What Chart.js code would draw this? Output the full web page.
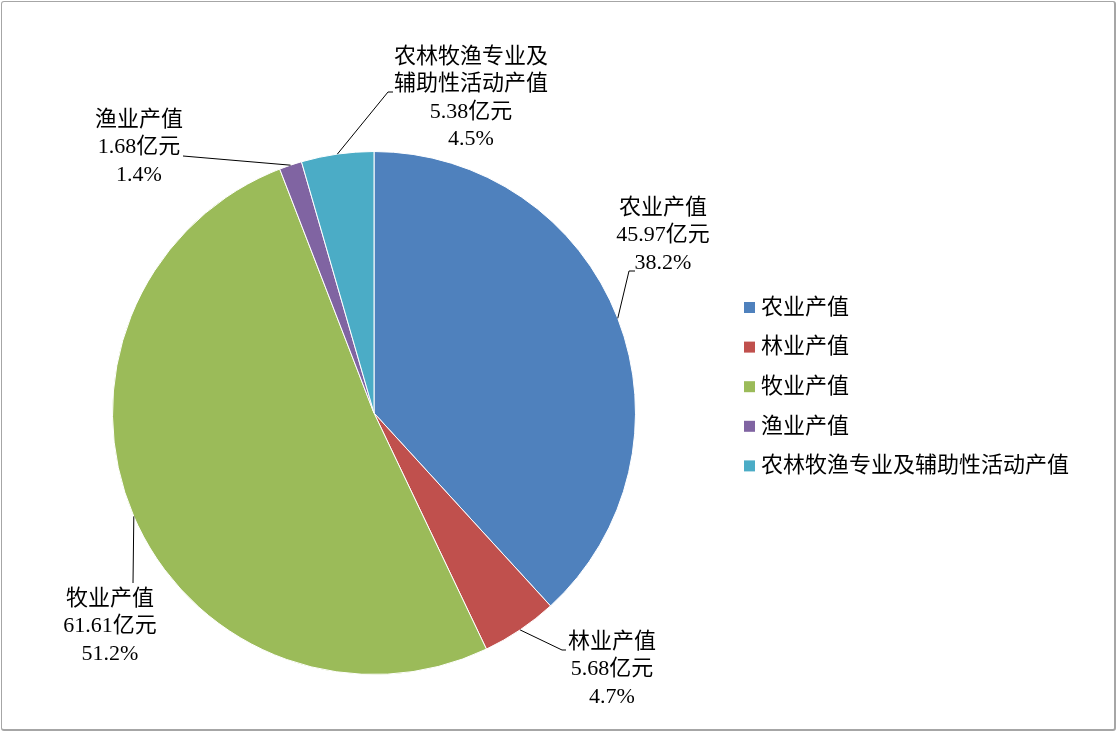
<!DOCTYPE html>
<html>
<head>
<meta charset="utf-8">
<script src="https://cdn.jsdelivr.net/npm/chart.js@4/dist/chart.umd.min.js"></script>
<style>
  html, body { margin: 0; padding: 0; background: #fff; }
  #wrap { position: relative; width: 1117px; height: 732px; }
  #frame {
    position: absolute; left: 1px; top: 1px; width: 1112px; height: 727px;
    border: 1px solid #a6a6a6; border-right-width: 2px; border-bottom-width: 2px;
    border-radius: 3px; pointer-events: none;
  }
  canvas { position: absolute; left: 0; top: 0; }
</style>
</head>
<body>
<div id="wrap">
  <canvas id="chart" width="1117" height="732"></canvas>
  <div id="frame"></div>
</div>
<script>
// data (亿元)
const categories = ['农业产值', '林业产值', '牧业产值', '渔业产值', '农林牧渔专业及辅助性活动产值']
const values = [45.97, 5.68, 61.61, 1.68, 5.38]
const unit = '亿元'

const colors = ['#4F81BD', '#C0504D', '#9BBB59', '#8064A2', '#4BACC6']

// where each data label sits: text centre x, first line centre y, leader elbow, short tail
const labelLayout = [
  { x: 663, y: 208, elbow: [629, 271], tail: 6 },
  { x: 612, y: 642, elbow: [562, 650], tail: 4 },
  { x: 110, y: 599, elbow: [133, 583], tail: 0 },
  { x: 139, y: 120, elbow: [183, 156], tail: 0 },
  { x: 471, y: 57, elbow: [388, 92], tail: 5 }
]

const FONT = '22px "Liberation Serif", "Noto Sans CJK SC", serif'
const LINE_H = 27.5

function wrapName(name) {
  if (name.length <= 7) return [name]
  const lines = []
  for (let i = 0; i < name.length; i += 7) lines.push(name.slice(i, i + 7))
  return lines
}

const labelPlugin = {
  id: 'pieLabels',
  afterDatasetsDraw(chart) {
    const ctx = chart.ctx
    const meta = chart.getDatasetMeta(0)
    const total = values.reduce((a, b) => a + b, 0)
    ctx.save()
    ctx.font = FONT
    ctx.fillStyle = '#000'
    ctx.textAlign = 'center'
    ctx.textBaseline = 'middle'
    meta.data.forEach((arc, i) => {
      const p = arc.getProps(['x', 'y', 'startAngle', 'endAngle', 'outerRadius'], true)
      const mid = (p.startAngle + p.endAngle) / 2
      const sx = p.x + Math.cos(mid) * p.outerRadius
      const sy = p.y + Math.sin(mid) * p.outerRadius
      const lay = labelLayout[i]

      // leader line
      ctx.strokeStyle = '#000'
      ctx.lineWidth = 1
      ctx.beginPath()
      ctx.moveTo(sx, sy)
      ctx.lineTo(lay.elbow[0], lay.elbow[1])
      if (lay.tail) ctx.lineTo(lay.elbow[0] + lay.tail, lay.elbow[1])
      ctx.stroke()

      const lines = wrapName(categories[i])
      lines.push(values[i].toFixed(2) + unit)
      lines.push((values[i] / total * 100).toFixed(1) + '%')
      lines.forEach((t, k) => ctx.fillText(t, lay.x, lay.y + k * LINE_H))
    })
    ctx.restore()
  }
}

const legendPlugin = {
  id: 'sideLegend',
  afterDraw(chart) {
    const ctx = chart.ctx
    ctx.save()
    ctx.font = FONT
    ctx.textAlign = 'left'
    ctx.textBaseline = 'middle'
    categories.forEach((c, i) => {
      const y = 307 + i * 39.6
      ctx.fillStyle = colors[i]
      ctx.fillRect(744, y - 5, 11, 11)
      ctx.fillStyle = '#000'
      ctx.fillText(c, 761, y + 1)
    })
    ctx.restore()
  }
}

new Chart(document.getElementById('chart'), {
  type: 'pie',
  data: {
    labels: categories,
    datasets: [{
      data: values,
      backgroundColor: colors,
      borderColor: '#ffffff',
      borderWidth: 1
    }]
  },
  options: {
    responsive: false,
    animation: false,
    devicePixelRatio: 1,
    layout: { padding: { left: 112, top: 151, right: 481, bottom: 57 } },
    plugins: {
      legend: { display: false },
      tooltip: { enabled: false }
    }
  },
  plugins: [labelPlugin, legendPlugin]
})
</script>
</body>
</html>
